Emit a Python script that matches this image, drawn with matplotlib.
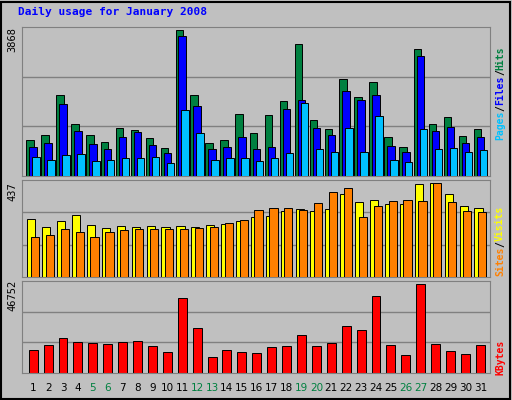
import matplotlib
matplotlib.use("Agg")
import matplotlib.pyplot as plt
from matplotlib.patches import Rectangle

days = list(range(1, 32))
hits = [954,1087,2147,1378,1087,901,1272,1219,1007,742,3868,2147,875,954,1643,1140,1617,1988,3498,1484,1246,2571,2094,2491,1034,769,3366,1378,1564,1060,1246]
files = [769,875,1908,1193,848,716,1034,1166,822,610,3710,1855,716,769,1034,716,769,1776,2014,1272,1087,2253,2014,2147,795,636,3180,1193,1299,875,1034]
pages = [504,424,557,583,398,424,477,477,504,345,1749,1140,424,477,477,398,477,610,1935,716,636,1272,636,1590,424,371,1246,716,742,636,689]
visits = [265,228,256,284,237,223,233,228,233,228,233,228,237,242,256,274,279,302,312,302,312,381,344,353,335,335,428,432,381,326,316]
sites = [186,195,219,209,186,209,214,219,219,219,219,223,228,247,260,307,316,316,307,340,391,409,274,326,349,353,349,432,344,302,298]
kbytes = [12075,14700,18375,16275,15750,15225,16275,16800,14175,11025,39375,23625,8400,12075,11025,10500,13650,14175,19950,14175,15750,24675,22575,40425,14700,9450,46752,15225,11550,9975,14700]
weekends = [5, 6, 12, 13, 19, 20, 26, 27]

W, H = 512, 400
fig = plt.figure(figsize=(W/100, H/100), dpi=100)
fig.patch.set_facecolor('#C0C0C0')
BG = '#C0C0C0'
mono = 'DejaVu Sans Mono'

def ax_at(l, t, r, b):
    a = fig.add_axes([l/W, 1-b/H, (r-l)/W, (b-t)/H])
    a.set_facecolor(BG)
    a.set_xlim(0.25, 31.65)
    a.set_xticks([]); a.set_yticks([])
    for s in a.spines.values():
        s.set_color('#808080')
    return a

def grid(a, top):
    for f in (1/3, 2/3):
        a.axhline(top*f, color='#808080', lw=1, zorder=0)
    a.set_ylim(0, top)

kw = dict(edgecolor='black', linewidth=0.7)

a1 = ax_at(22, 27, 490, 176)
grid(a1, 3868 * 1.02)
a1.bar([d-0.2 for d in days], hits, width=0.5, color='#008040', zorder=2, **kw)
a1.bar(days, files, width=0.5, color='#0000FF', zorder=3, **kw)
a1.bar([d+0.2 for d in days], pages, width=0.5, color='#00C0FF', zorder=4, **kw)

a2 = ax_at(22, 180, 490, 277)
grid(a2, 437 * 1.02)
a2.bar([d-0.12 for d in days], visits, width=0.55, color='#FFFF00', zorder=2, **kw)
a2.bar([d+0.12 for d in days], sites, width=0.55, color='#FF8000', zorder=3, **kw)

a3 = ax_at(22, 281, 490, 373)
grid(a3, 46752 * 1.03)
a3.bar(days, kbytes, width=0.6, color='#FF0000', zorder=2, **kw)

for d in days:
    x = 22 + (d - 0.25) / 31.4 * 468
    fig.text(x/W, 1-388/H, str(d), ha='center', va='center', fontsize=7.5,
             color='#008040' if d in weekends else 'black')

fig.text(18/W, 1-12/H, 'Daily usage for January 2008', fontsize=8, fontweight='bold',
         color='#0000FF', family=mono, va='center')

for y, t in [(40, '3868'), (192, '437'), (295, '46752')]:
    fig.text(12/W, 1-y/H, t, rotation=90, ha='center', va='center', fontsize=7.5, family=mono)

renderer = fig.canvas.get_renderer()
def rlabel(ybottom, parts):
    y = ybottom
    for txt, col in parts:
        t = fig.text(500/W, 1-y/H, txt, rotation=90, ha='center', va='bottom',
                     fontsize=7, fontweight='bold', color=col, family=mono)
        bb = t.get_window_extent(renderer)
        y -= bb.height
rlabel(140, [('Pages', '#00C0FF'), ('/', 'black'), ('Files', '#0000FF'), ('/', 'black'), ('Hits', '#008040')])
rlabel(276, [('Sites', '#FF8000'), ('/', 'black'), ('Visits', '#FFFF00')])
rlabel(375, [('KBytes', '#FF0000')])

fig.patches.append(Rectangle((1/W, 1/H), (W-3)/W, (H-3)/H, transform=fig.transFigure,
                             fill=False, edgecolor='black', lw=1.5))

fig.savefig('out.png', dpi=100, facecolor=fig.get_facecolor())
